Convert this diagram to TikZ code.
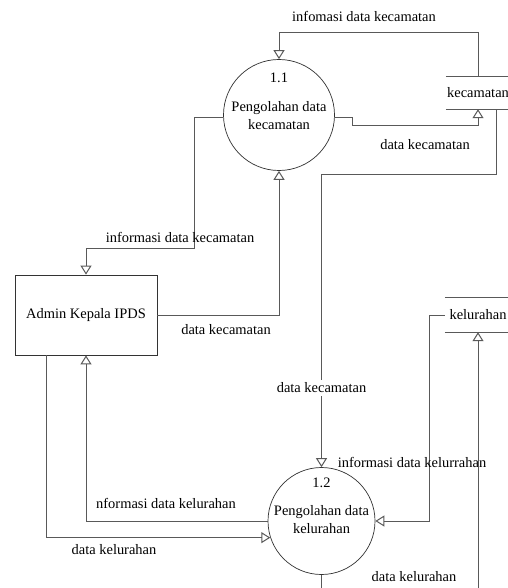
\documentclass[tikz,border=0pt]{standalone}
\usepackage{fontspec}
\setmainfont{Liberation Serif}
\usetikzlibrary{arrows.meta}
\begin{document}
\begin{tikzpicture}[x=1bp,y=-1bp,
  every node/.style={font=\fontsize{14.5}{18}\selectfont, inner sep=0pt},
  proc/.style={circle, draw=black!80, line width=0.7bp, minimum size=111bp},
  ent/.style={rectangle, draw=black!80, line width=0.8bp, minimum width=142bp, minimum height=80bp},
  store/.style={rectangle, minimum width=64bp, minimum height=32bp},
  flow/.style={draw=black!65, line width=1bp, -{Triangle[open,length=9bp,width=11bp]}},
  plain/.style={draw=black!65, line width=1bp},
  lbl/.style={fill=none},
  lblw/.style={fill=white, inner ysep=3bp}]
\useasboundingbox (0,0) rectangle (508,588);
\fill[white] (0,0) rectangle (508,588);

% processes
\node[proc] (p11) at (279,115) {};
\node (p11n) at (279,78) {1.1};
\node[align=center] (p11t) at (279,116) {Pengolahan data\\kecamatan};
\node[proc, minimum size=107bp] (p12) at (321.5,521) {};
\node (p12n) at (321.5,483) {1.2};
\node[align=center] (p12t) at (321.5,520) {Pengolahan data\\kelurahan};

% entity
\node[ent] (adm) at (86,315) {Admin Kepala IPDS};

% stores
\node[store] (sk) at (478,93) {kecamatan};
\draw[plain] (sk.north west) -- ++(70,0);
\draw[plain] (sk.south west) -- ++(70,0);
\node[store, minimum width=66bp, minimum height=34bp] (sl) at (478,315) {kelurahan};
\draw[plain] (sl.north west) -- ++(70,0);
\draw[plain] (sl.south west) -- ++(70,0);

% free ends below the picture
\coordinate (b1) at (321.5,600);
\coordinate (b2) at (478,600);

% flows
\draw[flow] (sk.north) |- (279,33) -- (p11.north);
\node[lbl] (l1) at (364,16) {infomasi data kecamatan};

\draw[flow] (p11.-3) -| (352,126) -| (sk.south);
\node[lbl] (l2) at (425,145) {data kecamatan};

\draw[flow] (p11.183) -| (194,248) -| (adm.north);
\node[lbl] (l3) at (180,237) {informasi data kecamatan};

\draw[flow] (adm.east) -| (p11.south);
\node[lbl] (l4) at (226,330) {data kecamatan};

\draw[flow] ([xshift=18bp]sk.south) |- (321.5,174) -- (p12.north);
\node[lblw] (l5) at (321.5,388) {data kecamatan};

\draw[flow] (sl.west) -| (429,521) -- (p12.east);
\node[lbl] (l6) at (412,462) {informasi data kelurrahan};

\draw[flow] (p12.west) -| (adm.south);
\node[lbl] (l7) at (166,503) {nformasi data kelurahan};

\draw[flow] ([xshift=-40bp]adm.south) |- (p12.198);
\node[lbl] (l8) at (114,550) {data kelurahan};

\draw[plain] (p12.south) -- (b1);
\draw[flow] (b2) -- (sl.south);
\node[lbl] (l9) at (414,577) {data kelurahan};
\end{tikzpicture}
\end{document}
